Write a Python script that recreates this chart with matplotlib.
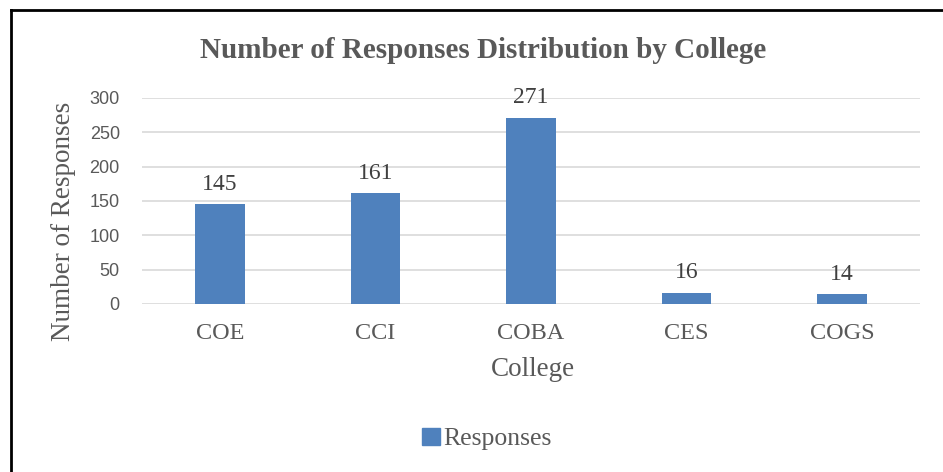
import matplotlib
matplotlib.use("Agg")
import matplotlib.pyplot as plt
from matplotlib.lines import Line2D

# Dados
colleges = ["COE", "CCI", "COBA", "CES", "COGS"]
responses = [145, 161, 271, 16, 14]
yticks = [0, 50, 100, 150, 200, 250, 300]

bar_color = "#4f81bd"
text_color = "#595959"
grid_color = "#d9d9d9"

fig = plt.figure(figsize=(9.43, 4.72), dpi=100)
ax = fig.add_axes([142 / 943, 1 - 304 / 472, 778 / 943, 206 / 472])

x = range(len(colleges))
bars = ax.bar(x, responses, width=0.32, color=bar_color, zorder=3)
for b, v in zip(bars, responses):
    ax.text(b.get_x() + b.get_width() / 2, v + 14, str(v), ha="center", va="bottom",
            fontsize=17, family="Liberation Serif", color="#404040")

ax.set_xlim(-0.5, len(colleges) - 0.5)
ax.set_ylim(0, 300)
ax.set_yticks(yticks)
ax.set_yticklabels([str(t) for t in yticks], family="Liberation Sans", fontsize=13, color=text_color)
ax.set_xticks(list(x))
ax.set_xticklabels(colleges, family="Liberation Serif", fontsize=17.5, color=text_color)
ax.tick_params(axis="both", length=0)
ax.tick_params(axis="y", pad=16)
ax.tick_params(axis="x", pad=14)
ax.grid(axis="y", color=grid_color, linewidth=1.2, zorder=0)
for s in ax.spines.values():
    s.set_visible(False)

fig.text(533 / 943, 1 - 370 / 472, "College", ha="center", va="center",
         family="Liberation Serif", fontsize=19.5, color=text_color)
fig.text(63 / 943, 1 - 221 / 472, "Number of Responses", ha="center", va="center", rotation=90,
         family="Liberation Serif", fontsize=19.5, color=text_color)

fig.text(483 / 943, 1 - 51 / 472, "Number of Responses Distribution by College",
         ha="center", va="center", fontsize=21, fontweight="bold",
         family="Liberation Serif", color=text_color)

# legenda
leg = fig.legend(handles=[plt.Rectangle((0, 0), 1, 1, color=bar_color)], labels=["Responses"],
                 loc="center", bbox_to_anchor=(487 / 943, 1 - 439 / 472), frameon=False,
                 prop={"family": "Liberation Serif", "size": 18.5},
                 handlelength=0.7, handleheight=0.7, handletextpad=0.15)
for t in leg.get_texts():
    t.set_color(text_color)

# borda
fig.add_artist(Line2D([11 / 943, 11 / 943], [0, 1 - 10 / 472], color="black", linewidth=2,
                      transform=fig.transFigure))
fig.add_artist(Line2D([11 / 943, 1], [1 - 10 / 472, 1 - 10 / 472], color="black", linewidth=2,
                      transform=fig.transFigure))

fig.savefig("out.png", dpi=100)
